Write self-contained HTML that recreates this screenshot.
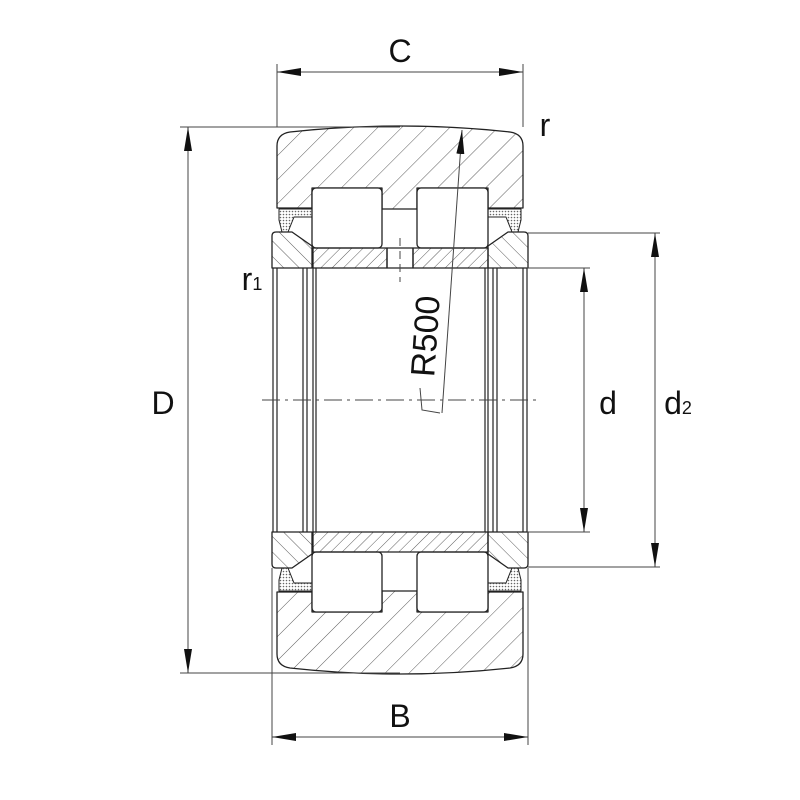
<!DOCTYPE html>
<html><head><meta charset="utf-8"><style>html,body{margin:0;padding:0;background:#fff}svg{display:block}text{font-family:"Liberation Sans",sans-serif;fill:#111}</style></head>
<body>
<svg width="800" height="800" viewBox="0 0 800 800" xmlns="http://www.w3.org/2000/svg">
<defs>
<pattern id="h1" patternUnits="userSpaceOnUse" width="17" height="17" patternTransform="rotate(45)"><line x1="0" y1="0" x2="0" y2="17" stroke="#333" stroke-width="0.8"/></pattern>
<pattern id="h2" patternUnits="userSpaceOnUse" width="8" height="8" patternTransform="rotate(45)"><line x1="0" y1="0" x2="0" y2="8" stroke="#333" stroke-width="0.8"/></pattern>
<pattern id="h3" patternUnits="userSpaceOnUse" width="11" height="11" patternTransform="rotate(-45)"><line x1="0" y1="0" x2="0" y2="11" stroke="#333" stroke-width="0.8"/></pattern>
<pattern id="dt" patternUnits="userSpaceOnUse" width="3" height="3"><circle cx="1.5" cy="1.5" r="0.8" fill="#666"/></pattern>
<marker id="b" viewBox="0 0 24 8" refX="24" refY="4" markerWidth="24" markerHeight="8" orient="auto-start-reverse" markerUnits="userSpaceOnUse"><path d="M0,0 L24,4 L0,8 z" fill="#111"/></marker>
</defs>
<g stroke="#222" stroke-width="1.3" fill="none" stroke-linejoin="round">
<path d="M277,208 L277,146 Q277,134 290,132 Q400,120 510,132 Q523,134 523,146 L523,208 L488,208 L488,188 L417,188 L417,209 L382,209 L382,188 L312,188 L312,208 Z" fill="url(#h1)"/>
<path d="M277,592 L277,654 Q277,666 290,668 Q400,680 510,668 Q523,666 523,654 L523,592 L488,592 L488,612 L417,612 L417,591 L382,591 L382,612 L312,612 L312,592 Z" fill="url(#h1)"/>
<rect x="312" y="188" width="70" height="60" rx="4" fill="#fff"/>
<rect x="417" y="188" width="71" height="60" rx="4" fill="#fff"/>
<rect x="312" y="552" width="70" height="60" rx="4" fill="#fff"/>
<rect x="417" y="552" width="71" height="60" rx="4" fill="#fff"/>
<rect x="313" y="248" width="74" height="20" fill="url(#h2)"/>
<rect x="413" y="248" width="75" height="20" fill="url(#h2)"/>
<rect x="387" y="248" width="26" height="20"/>
<rect x="313" y="532" width="175" height="20" fill="url(#h2)"/>
<path d="M272,236 Q272,232 276,232 L292,232 L312,246 L312,268 L272,268 Z" fill="url(#h3)"/>
<path d="M528,236 Q528,232 524,232 L508,232 L488,246 L488,268 L528,268 Z" fill="url(#h3)"/>
<path d="M272,564 Q272,568 276,568 L292,568 L312,554 L312,532 L272,532 Z" fill="url(#h3)"/>
<path d="M528,564 Q528,568 524,568 L508,568 L488,554 L488,532 L528,532 Z" fill="url(#h3)"/>
<g stroke-width="1">
<path d="M279,209 L312,209 L312,217 L294,217 L288,232 L282,232 L279,220 Z" fill="url(#dt)"/>
<path d="M521,209 L488,209 L488,217 L506,217 L512,232 L518,232 L521,220 Z" fill="url(#dt)"/>
<path d="M279,591 L312,591 L312,583 L294,583 L288,568 L282,568 L279,580 Z" fill="url(#dt)"/>
<path d="M521,591 L488,591 L488,583 L506,583 L512,568 L518,568 L521,580 Z" fill="url(#dt)"/>
</g>
<g stroke-width="1.2">
<line x1="273" y1="268" x2="273" y2="532"/><line x1="277" y1="268" x2="277" y2="532"/>
<line x1="303" y1="268" x2="303" y2="532"/><line x1="307" y1="268" x2="307" y2="532"/>
<line x1="313" y1="268" x2="313" y2="532"/><line x1="316" y1="268" x2="316" y2="532"/>
<line x1="485" y1="268" x2="485" y2="532"/><line x1="488" y1="268" x2="488" y2="532"/>
<line x1="493" y1="268" x2="493" y2="532"/><line x1="497" y1="268" x2="497" y2="532"/>
<line x1="523" y1="268" x2="523" y2="532"/><line x1="527" y1="268" x2="527" y2="532"/>
</g>
</g>
<g stroke="#444" stroke-width="1" fill="none">
<line x1="277" y1="64" x2="277" y2="127"/><line x1="523" y1="64" x2="523" y2="127"/>
<line x1="277" y1="72" x2="523" y2="72" marker-start="url(#b)" marker-end="url(#b)"/>
<line x1="180" y1="127" x2="400" y2="127"/><line x1="180" y1="673" x2="400" y2="673"/>
<line x1="188" y1="127" x2="188" y2="673" marker-start="url(#b)" marker-end="url(#b)"/>
<line x1="272" y1="568" x2="272" y2="745"/><line x1="528" y1="568" x2="528" y2="745"/>
<line x1="272" y1="737" x2="528" y2="737" marker-start="url(#b)" marker-end="url(#b)"/>
<line x1="528" y1="233" x2="660" y2="233"/><line x1="528" y1="567" x2="660" y2="567"/>
<line x1="655" y1="233" x2="655" y2="567" marker-start="url(#b)" marker-end="url(#b)"/>
<line x1="527" y1="268" x2="590" y2="268"/><line x1="527" y1="532" x2="590" y2="532"/>
<line x1="584" y1="268" x2="584" y2="532" marker-start="url(#b)" marker-end="url(#b)"/>
<line x1="262" y1="400" x2="536" y2="400" stroke-dasharray="18,5,3,5"/>
<line x1="400" y1="238" x2="400" y2="282" stroke-dasharray="8,5"/>
<line x1="442" y1="413" x2="462" y2="130" marker-end="url(#b)"/>
<path d="M420,388 L422,410 L440,413" />
</g>
<text x="400" y="62" font-size="32" text-anchor="middle">C</text>
<text x="163" y="414" font-size="32" text-anchor="middle">D</text>
<text x="400" y="727" font-size="32" text-anchor="middle">B</text>
<text x="608" y="414" font-size="32" text-anchor="middle">d</text>
<text x="678" y="414" font-size="32" text-anchor="middle">d<tspan font-size="18">2</tspan></text>
<text x="545" y="136" font-size="32" text-anchor="middle">r</text>
<text x="252" y="290" font-size="32" text-anchor="middle">r<tspan font-size="18">1</tspan></text>
<text x="0" y="0" font-size="34" text-anchor="middle" transform="translate(437,337) rotate(-86)">R500</text>
</svg>
</body></html>
